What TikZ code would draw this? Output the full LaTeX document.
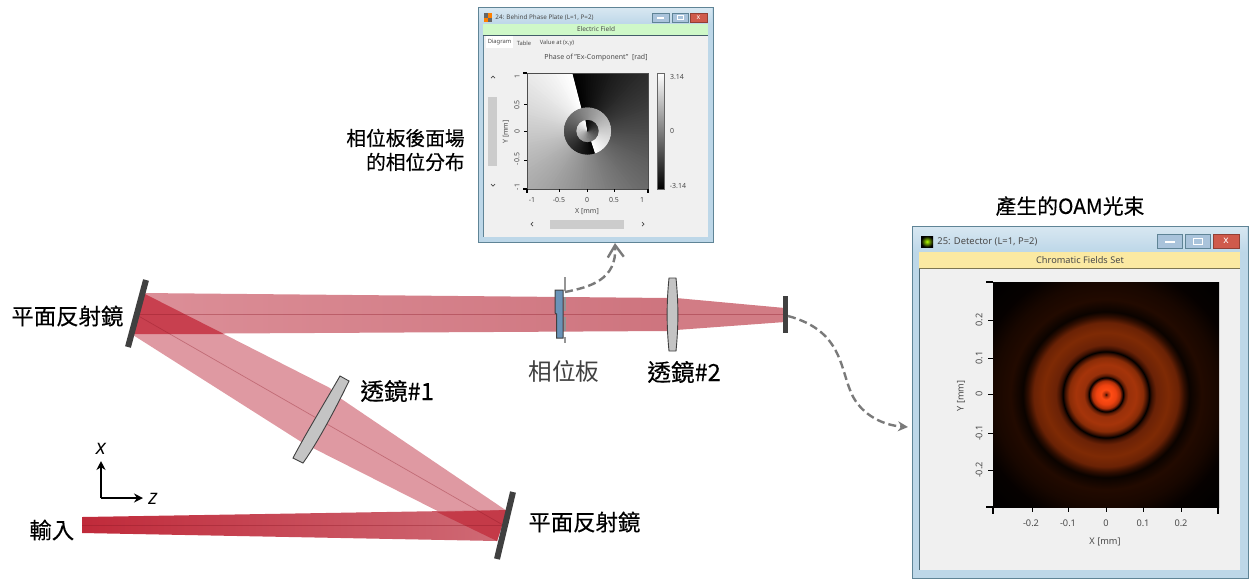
\documentclass[tikz,border=0pt]{standalone}
\usepackage{fontspec}
\setmainfont{Noto Sans}
\newfontfamily\cjk[FakeBold=0.35]{Noto Sans CJK TC}
\newfontfamily\cjklight{Noto Sans CJK TC}
\newfontfamily\axisfont{Open Sans}
\usetikzlibrary{arrows.meta}
\definecolor{beamred}{HTML}{B81D30}
\definecolor{beamdiag}{HTML}{DF99A2}
\definecolor{beamhl}{HTML}{DC8F98}
\definecolor{beamhr}{HTML}{CE747E}
\definecolor{beamfoc}{HTML}{D27C85}
\definecolor{beaminl}{HTML}{C02A3A}
\definecolor{beaminr}{HTML}{CF6B76}
\definecolor{overlapa}{HTML}{C8404F}
\definecolor{overlapb}{HTML}{C43A48}
\definecolor{mirrorgray}{HTML}{404040}
\definecolor{lensgray}{HTML}{C4C4C4}
\definecolor{platec}{HTML}{6A93B8}
\definecolor{uitext}{HTML}{4A4A4A}
\definecolor{framec}{HTML}{BDD7E8}
\definecolor{framel}{HTML}{5F8496}
\definecolor{panelc}{HTML}{F0F0F0}
\definecolor{btnc}{HTML}{A9C3DB}
\definecolor{closec}{HTML}{CF5A4C}
\definecolor{dashc}{HTML}{7A7A7A}
\definecolor{greenbar}{HTML}{CFF8C8}
\definecolor{yellowbar}{HTML}{FBE9A2}
\definecolor{oa}{HTML}{1A0500}\definecolor{ob}{HTML}{A02A08}\definecolor{oc}{HTML}{FF4C14}
\definecolor{od}{HTML}{EE4210}\definecolor{oe}{HTML}{B03008}\definecolor{of}{HTML}{501204}
\definecolor{ok}{HTML}{000000}\definecolor{og}{HTML}{5A1A04}\definecolor{oh}{HTML}{98300A}
\definecolor{oi}{HTML}{A5340A}\definecolor{oj}{HTML}{8A2C07}\definecolor{ol}{HTML}{3A1002}
\definecolor{om}{HTML}{6B2206}\definecolor{on}{HTML}{7E2A05}\definecolor{oo}{HTML}{6A2205}
\definecolor{op}{HTML}{300E01}\definecolor{oq}{HTML}{0A0300}\definecolor{or}{HTML}{220A00}
\definecolor{os}{HTML}{180700}\definecolor{ot}{HTML}{060100}
\pgfdeclareradialshading{oamrings}{\pgfpoint{0bp}{0bp}}{%
color(0bp)=(oa); color(0.33bp)=(ob); color(1.1bp)=(oc); color(2.2bp)=(od); color(3.1bp)=(oe); color(3.45bp)=(of);
color(3.78bp)=(ok); color(4.2bp)=(og); color(4.9bp)=(oh); color(6.7bp)=(oi); color(8.2bp)=(oj); color(9.1bp)=(ol); color(9.55bp)=(ok); color(10.1bp)=(ol);
color(11.1bp)=(om); color(13.8bp)=(on); color(16bp)=(oo); color(17.3bp)=(op); color(18.4bp)=(oq); color(21.1bp)=(or);
color(24.9bp)=(os); color(28.9bp)=(ot); color(35.5bp)=(ok); color(50bp)=(ok)}
\tikzset{
  beamaxis/.style={draw=beamred!75!black,draw opacity=.35,line width=.35pt},
  mirror/.style={draw=mirrorgray,line width=3pt},
  lens/.style={fill=lensgray,draw=mirrorgray,line width=.45pt},
  link/.style={draw=dashc,line width=1.2pt,dash pattern=on 4pt off 2pt},
  label/.style={font=\cjk\fontsize{11.2}{13}\selectfont,text=black,inner sep=0pt},
  ui/.style={font=\fontsize{3.5}{4}\selectfont,text=uitext,inner sep=0pt},
  uib/.style={font=\fontsize{4.6}{5}\selectfont,text=uitext,inner sep=0pt},
  winframe/.style={fill=framec,draw=framel,line width=.5pt},
  winbtn/.style={fill=btnc,draw=framel,line width=.25pt},
  winclose/.style={fill=closec,draw=closec!70!black,line width=.25pt},
  tickmark/.style={draw=black,line width=.4pt},
  cornertick/.style={draw=black,line width=.8pt},
  scrollbar/.style={fill=black!20,draw=none}
}
\newcommand\phasefan[1]{%
  \foreach \t in {0,3,...,357}{%
    \pgfmathsetmacro\g{100*(1-\t/360)}%
    \pgfmathsetmacro\aa{#1+\t}%
    \pgfmathsetmacro\bb{#1+min(\t+6,360)}%
    \fill[white!\g!black] (587.5,131) -- ({587.5+125*cos(\aa)},{131-125*sin(\aa)}) -- ({587.5+125*cos(\bb)},{131-125*sin(\bb)}) -- cycle;
  }%
}
\begin{document}
\begin{tikzpicture}[x=0.5pt,y=-0.5pt]
\useasboundingbox (0,0) rectangle (1253,586);
% beams
\fill[beamdiag] (143,293) -- (330,388) -- (340,398) -- (507,511) -- (497,541) -- (303,443) -- (133,335) -- cycle;
\shade[left color=beaminl,right color=beaminr,draw=none] (82,517) -- (507,510) -- (497,541) -- (82,533) -- cycle;
\fill[overlapb] (437,512) -- (507,510) -- (497,541) -- cycle;
\shade[left color=beamhl,right color=beamhr,draw=none] (143,293) -- (670,298) -- (670,331) -- (133,334) -- cycle;
\fill[overlapa] (143,293) -- (224,334) -- (133,334) -- cycle;
\fill[beamfoc] (676,298) -- (785,308) -- (785,322) -- (676,330) -- cycle;
% optical axes
\coordinate (inL) at (82,525);
\coordinate (m1c) at (503,525);
\coordinate (m2c) at (135,314);
\coordinate (detc) at (785,314);
\draw[beamaxis] (inL) -- (m1c);
\draw[beamaxis] (m1c) -- (m2c);
\draw[beamaxis] (m2c) -- (detc);
% mirrors, detector
\draw[mirror] (513,492) -- (497,559);
\draw[mirror] (146,280) -- (128,347);
\fill[mirrorgray] (783,296) rectangle (788,333);
% lenses
\filldraw[lens] (340,376) -- (349,381) .. controls (337,406) and (318,442) .. (303,463) -- (293,458) .. controls (305,435) and (328,397) .. cycle;
\filldraw[lens] (669,278) -- (676,278) .. controls (678.5,303) and (678.5,326) .. (676,351) -- (669,351) .. controls (666.5,326) and (666.5,303) .. cycle;
% phase plate
\filldraw[fill=platec,draw=mirrorgray,line width=.5pt] (555,290) -- (563,290) -- (563,338) -- (556.5,338) -- (556.5,314) -- (555,313) -- cycle;
\draw[draw=dashc!80!white,line width=1pt,dash pattern=on 7pt off 3pt] (565,277) -- (565,343);
% links
\coordinate (ppout) at (565,292);
\coordinate (win1in) at (615,243);
\coordinate (detout) at (788,316);
\coordinate (win2in) at (908,427);
\draw[link,-{Straight Barb[length=6pt,width=8pt]}] (ppout) .. controls (590,287) and (617,280) .. (win1in);
\draw[link,-{Stealth[length=5pt,width=5pt]}] (detout) .. controls (840,330) and (840,365) .. (850,390) .. controls (858,412) and (880,425) .. (win2in);
% axes
\coordinate (axo) at (101,498);
\coordinate (axx) at (101,461);
\coordinate (axz) at (143,498);
\draw[black,line width=.8pt,-{Stealth[length=4.5pt,width=4.5pt]}] (axo) -- (axx);
\draw[black,line width=.8pt,-{Stealth[length=4.5pt,width=4.5pt]}] (axo) -- (axz);
\node[font=\axisfont\itshape\fontsize{10.5}{12}\selectfont,inner sep=0pt] (xlab) at (101,449) {x};
\node[font=\axisfont\itshape\fontsize{10.5}{12}\selectfont,inner sep=0pt] (zlab) at (153,499) {z};
% labels
\node[label,anchor=west] (lm2) at (11,316) {平面反射鏡};
\node[label,anchor=west] (lm1) at (528,522) {平面反射鏡};
\node[label,anchor=west,font=\cjk\fontsize{11.8}{13}\selectfont] (ll1) at (360,391) {透鏡\#1};
\node[label,anchor=west,font=\cjk\fontsize{11.8}{13}\selectfont] (ll2) at (647,372) {透鏡\#2};
\node[label,anchor=west,font=\cjklight\fontsize{11.8}{13}\selectfont,text=black!75] (lpp) at (528,371) {相位板};
\node[label,anchor=west] (lin) at (29,530) {輸入};
\node[label,anchor=east,font=\cjk\fontsize{9.85}{11}\selectfont] (lphase1) at (465,138) {相位板後面場};
\node[label,anchor=east,font=\cjk\fontsize{9.85}{11}\selectfont] (lphase2) at (465,162) {的相位分布};
\node[label,anchor=center,font=\cjk\fontsize{10.4}{12}\selectfont] (loam) at (1070,206) {產生的OAM光束};
% window 1
\filldraw[winframe] (478,7) rectangle (713,242);
\shade[top color=framec!60!white,bottom color=framec] (479,8) rectangle (712,24);
\fill[panelc] (483,36) rectangle (708,237);
\draw[framel,line width=.3pt] (483,36) -- (483,237);
\fill[greenbar] (483,24) rectangle (708,35);
\draw[framel!70!black,line width=.25pt] (483,35.5) -- (708,35.5);
\fill[white] (486,36) rectangle (513,48);
\fill[black!60] (484,13) rectangle (488,17.5); \fill[orange] (488,13) rectangle (492,17.5);
\fill[orange] (484,17.5) rectangle (488,22); \fill[black!60] (488,17.5) rectangle (492,22);
\filldraw[winbtn] (652,13) rectangle (669,22);
\filldraw[winbtn] (672,13) rectangle (688,22);
\filldraw[winclose] (690,13) rectangle (707,22);
\fill[white] (657,17) rectangle (664,18.5);
\draw[white,line width=.4pt] (677,15.5) rectangle (683,19.5);
\node[font=\bfseries\fontsize{3.5}{4}\selectfont,text=white,inner sep=0pt] (w1x) at (698.5,17.5) {x};
\node[ui,anchor=west,font=\fontsize{3.15}{4}\selectfont] (w1t) at (495,17.5) {24: Behind Phase Plate (L=1, P=2)};
\node[ui,font=\fontsize{3.25}{4}\selectfont] (w1b) at (596,29.5) {Electric Field};
\node[ui,font=\fontsize{2.9}{4}\selectfont] (w1tab1) at (499.5,42) {Diagram};
\node[ui,font=\fontsize{2.9}{4}\selectfont] (w1tab2) at (524,43) {Table};
\node[ui,font=\fontsize{2.9}{4}\selectfont] (w1tab3) at (557,43) {Value at (x,y)};
\node[ui] (w1ttl) at (596,58) {Phase of "Ex-Component"\ \ [rad]};
% phase plot
\begin{scope}
  \clip (527,73) rectangle (648,189);
  \phasefan{104.5}
\end{scope}
\begin{scope}
  \clip (587.5,131) circle (23.5);
  \phasefan{-72}
\end{scope}
\begin{scope}
  \clip (587.5,131) circle (11);
  \phasefan{100}
\end{scope}
\draw[black!70,line width=.25pt] (527,73) rectangle (648,189);
\draw[cornertick] (523,73) -- (527,73) (527,189) -- (527,193) (523,189) -- (527,189) (648,189) -- (648,193);
\draw[tickmark] (524,104) -- (527,104) (524,131) -- (527,131) (524,160) -- (527,160) (559,189) -- (559,192) (587,189) -- (587,192) (614,189) -- (614,192);
\shade[top color=white,bottom color=black] (657,73) rectangle (664,189);
\draw[black!60,line width=.3pt] (657,73) rectangle (664,189);
\node[ui,rotate=90] (wy1) at (517,76) {1};
\node[ui,rotate=90] (wy2) at (517,105) {0.5};
\node[ui,rotate=90] (wy3) at (517,131) {0};
\node[ui,rotate=90] (wy4) at (517,159) {-0.5};
\node[ui,rotate=90] (wy5) at (517,187) {-1};
\node[ui,rotate=90] (wyl) at (506,132) {Y [mm]};
\node[ui] (wx1) at (532,200) {-1};
\node[ui] (wx2) at (559,200) {-0.5};
\node[ui] (wx3) at (587,200) {0};
\node[ui] (wx4) at (614,200) {0.5};
\node[ui] (wx5) at (642,200) {1};
\node[ui] (wxl) at (587,212) {X [mm]};
\node[ui] (wc1) at (677,77) {3.14};
\node[ui] (wc2) at (672,131) {0};
\node[ui] (wc3) at (678,186) {-3.14};
\fill[scrollbar] (488,97) rectangle (497,166);
\fill[scrollbar] (550,220) rectangle (624,229);
\draw[uitext,line width=.35pt] (491,78) -- (493,76) -- (495,78);
\draw[uitext,line width=.35pt] (491,184) -- (493,186) -- (495,184);
\draw[uitext,line width=.35pt] (533,222) -- (531,224) -- (533,226);
\draw[uitext,line width=.35pt] (642,222) -- (644,224) -- (642,226);
% window 2
\filldraw[winframe] (912,226) rectangle (1248,578);
\shade[top color=framec!60!white,bottom color=framec] (913,227) rectangle (1247,252);
\fill[panelc] (919,269) rectangle (1240,570);
\draw[framel!80!black,line width=.4pt] (919.5,269) -- (919.5,570);
\fill[yellowbar] (919,252) rectangle (1240,268);
\draw[black!50!yellowbar,line width=.4pt] (919,268.7) -- (1240,268.7);
\shade[inner color=yellow!70!green,outer color=black] (921,236) rectangle (933,247);
\filldraw[winbtn] (1157,234) rectangle (1182,248);
\filldraw[winbtn] (1185,234) rectangle (1210,248);
\filldraw[winclose] (1213,234) rectangle (1239,248);
\fill[white] (1165,240.5) rectangle (1175,242.5);
\draw[white,line width=.5pt] (1193,238) rectangle (1202,244);
\node[font=\bfseries\fontsize{5}{6}\selectfont,text=white,inner sep=0pt] (w2x) at (1226,241) {x};
\node[uib,anchor=west,font=\fontsize{4.7}{6}\selectfont] (w2t) at (937,241.5) {25: Detector (L=1, P=2)};
\node[uib] (w2b) at (1080,260) {Chromatic Fields Set};
\begin{scope}
  \clip (993,282) rectangle (1219,507);
  \shade[shading=oamrings] (993,282) rectangle (1219,507);
\end{scope}
\draw[cornertick] (986,282) -- (993,282) (986,507) -- (993,507) (993,507) -- (993,514) (1218,507) -- (1218,514);
\draw[tickmark] (988,320) -- (993,320) (988,358) -- (993,358) (988,394) -- (993,394) (988,433) -- (993,433) (988,470) -- (993,470)
  (1032,507) -- (1032,512) (1068,507) -- (1068,512) (1106,507) -- (1106,512) (1143,507) -- (1143,512) (1181,507) -- (1181,512);
\node[uib,rotate=90] (dy1) at (979,320) {0.2};
\node[uib,rotate=90] (dy2) at (979,358) {0.1};
\node[uib,rotate=90] (dy3) at (979,394) {0};
\node[uib,rotate=90] (dy4) at (979,433) {-0.1};
\node[uib,rotate=90] (dy5) at (979,470) {-0.2};
\node[uib,rotate=90] (dyl) at (961,396) {Y [mm]};
\node[uib] (dx1) at (1031,523) {-0.2};
\node[uib] (dx2) at (1068,523) {-0.1};
\node[uib] (dx3) at (1106,523) {0};
\node[uib] (dx4) at (1143,523) {0.1};
\node[uib] (dx5) at (1181,523) {0.2};
\node[uib] (dxl) at (1105,542) {X [mm]};
\end{tikzpicture}
\end{document}
